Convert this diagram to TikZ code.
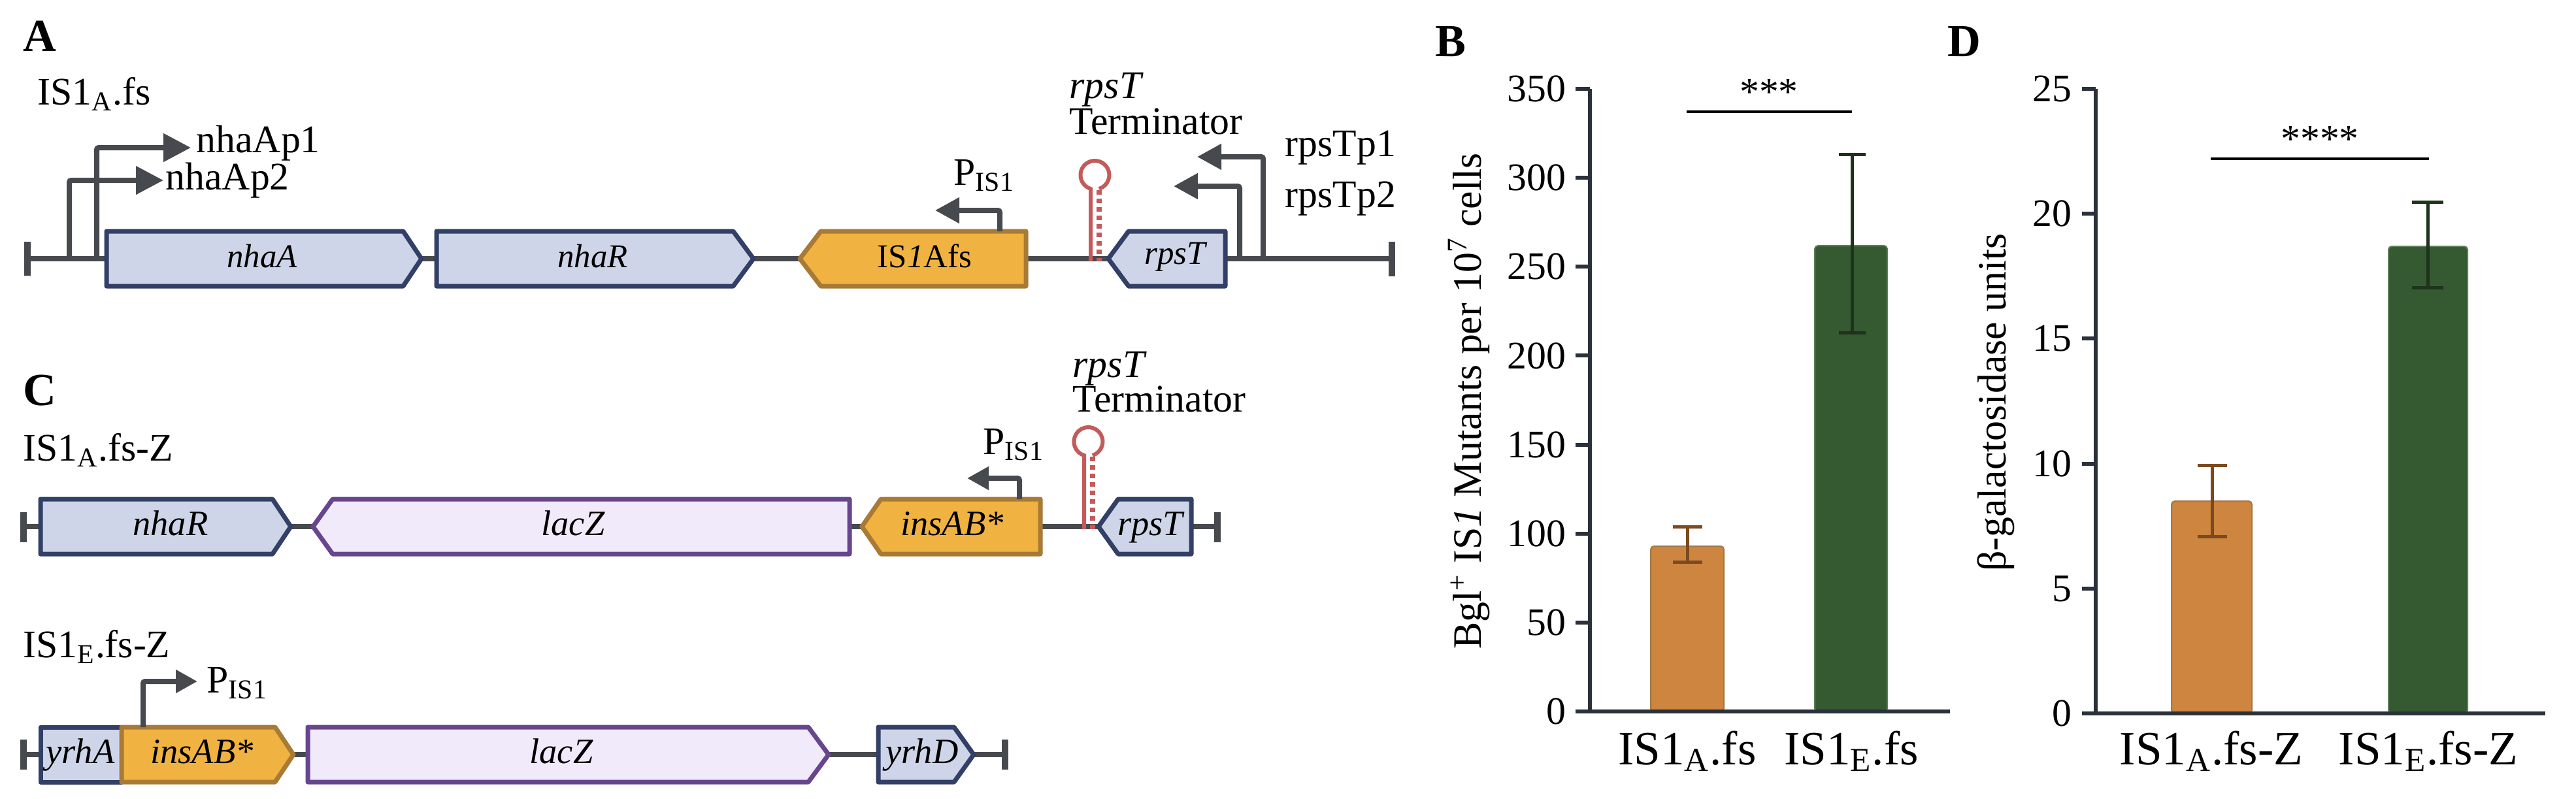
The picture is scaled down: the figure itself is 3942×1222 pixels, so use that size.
\documentclass[tikz,border=0pt]{standalone}
\usepackage{fontspec}
\setmainfont{Liberation Serif}
\usetikzlibrary{arrows.meta}
\definecolor{bb}{HTML}{464A4E}
\definecolor{gfill}{HTML}{CFD5E8}
\definecolor{gdraw}{HTML}{323F66}
\definecolor{ofill}{HTML}{F0B341}
\definecolor{odraw}{HTML}{A87A36}
\definecolor{lfill}{HTML}{F0EAFA}
\definecolor{ldraw}{HTML}{68468E}
\definecolor{termc}{HTML}{C45A5A}
\definecolor{axisc}{HTML}{2B313B}
\definecolor{barO}{HTML}{CD853F}
\definecolor{barOd}{HTML}{A07848}
\definecolor{errO}{HTML}{7B4A1E}
\definecolor{barG}{HTML}{355A32}
\definecolor{barGd}{HTML}{5E7D5A}
\definecolor{errG}{HTML}{1E321C}
\newcommand\geneR[5]{\path[#5] (#1,#4-42) -- (#2,#4-42) -- (#3,#4) -- (#2,#4+42) -- (#1,#4+42) -- cycle;}
\newcommand\geneL[5]{\path[#5] (#1,#4) -- (#2,#4-42) -- (#3,#4-42) -- (#3,#4+42) -- (#2,#4+42) -- cycle;}
\tikzset{
  backbone/.style={draw=bb, line width=0.8mm},
  endtick/.style={draw=bb, line width=1.0mm},
  geneblue/.style={fill=gfill, draw=gdraw, line width=0.7mm, line join=round},
  geneorange/.style={fill=ofill, draw=odraw, line width=0.7mm, line join=round},
  genelac/.style={fill=lfill, draw=ldraw, line width=0.7mm, line join=round},
  promA/.style={draw=bb, line width=0.8mm, rounded corners=0.3mm, -{Triangle[length=4.2mm,width=4.2mm]}},
  promB/.style={draw=bb, line width=0.8mm, rounded corners=0.3mm, -{Triangle[length=3.7mm,width=3.8mm]}},
  promC/.style={draw=bb, line width=0.8mm, rounded corners=0.3mm, -{Triangle[length=3.3mm,width=3.4mm]}},
  termsolid/.style={draw=termc, line width=0.6mm},
  termdash/.style={draw=termc, line width=0.8mm, dash pattern=on 0.7mm off 0.6mm},
  lbl/.style={anchor=base west, inner sep=0, font=\fontsize{17}{20}\selectfont},
  letterlbl/.style={anchor=base west, inner sep=0, font=\fontsize{20}{24}\selectfont\bfseries},
  genetxtA/.style={anchor=base, inner sep=0, font=\fontsize{14.5}{17}\selectfont\itshape},
  genetxtC/.style={anchor=base, inner sep=0, font=\fontsize{15.5}{18}\selectfont\itshape},
  axisline/.style={draw=axisc, line width=0.6mm},
  ticklbl/.style={anchor=east, inner sep=0, font=\fontsize{17}{20}\selectfont},
  axlbl/.style={inner sep=0, font=\fontsize{17.6}{20}\selectfont, rotate=90},
  xlbl/.style={anchor=base, inner sep=0, font=\fontsize{20.8}{24}\selectfont},
  sigline/.style={draw=black, line width=0.45mm},
  stars/.style={anchor=base, inner sep=0, font=\fontsize{17}{20}\selectfont},
  barOs/.style={fill=barO, draw=barOd, line width=0.2mm, rounded corners=0.5mm},
  barGs/.style={fill=barG, draw=barGd, line width=0.2mm, rounded corners=0.5mm},
  errOs/.style={draw=errO, line width=0.5mm},
  errGs/.style={draw=errG, line width=0.5mm},
}
\begin{document}
\begin{tikzpicture}[x=0.1mm, y=-0.1mm]
\useasboundingbox (0,0) rectangle (3942,1222);
\fill[white] (0,0) rectangle (3942,1222);

%%%%%%%%%%%%%%%% Panel A
\node[letterlbl] (LA) at (35,78) {A};
\node[lbl] (isA) at (57,160) {IS1\textsubscript{A}.fs};
\coordinate (a0) at (42,396);
\coordinate (a1) at (2130,396);
\draw[backbone] (a0) -- (a1);
\draw[endtick] (42,370) -- (42,422);
\draw[endtick] (2130,370) -- (2130,423);
% promoters nhaA
\coordinate (pA2) at (106,396);
\coordinate (pA1) at (148,396);
\draw[promA] (pA2) |- (250,276);
\draw[promA] (pA1) |- (292,226);
\node[lbl] (nhaAp1) at (300,233) {nhaAp1};
\node[lbl] (nhaAp2) at (253,290) {nhaAp2};
% genes
\geneR{163}{617}{645}{396}{geneblue}
\geneR{668}{1122}{1153}{396}{geneblue}
\geneL{1224}{1256}{1570}{396}{geneorange}
\geneL{1696}{1727}{1875}{396}{geneblue}
\node[genetxtA] (gnhaA) at (401,409) {nhaA};
\node[genetxtA] (gnhaR) at (907,409) {nhaR};
\node[genetxtA, font=\fontsize{14.5}{17}\selectfont] (gIS) at (1415,409) {IS\textit{1}Afs};
\node[genetxtA] (grpsT) at (1798,404) {rpsT};
% P_IS1
\coordinate (pisA) at (1530,354);
\draw[promB] (pisA) |- (1431,322);
\node[lbl] (PISa) at (1459,283) {P\textsubscript{IS1}};
% terminator
\draw[termsolid] (1669,400) -- (1669,289) arc[start angle=107, end angle=433, radius=22];
\draw[termdash] (1682,291) -- (1682,400);
\node[lbl, font=\fontsize{17}{20}\selectfont\itshape] (trA) at (1636,150) {rpsT};
\node[lbl] (tA) at (1636,205) {Terminator};
% rpsT promoters
\coordinate (pR2) at (1897,396);
\coordinate (pR1) at (1933,396);
\draw[promB] (pR2) |- (1796,285);
\draw[promB] (pR1) |- (1832,240);
\node[lbl] (rpsTp1) at (1966,239) {rpsTp1};
\node[lbl] (rpsTp2) at (1966,317) {rpsTp2};

%%%%%%%%%%%%%%%% Panel C row 1
\node[letterlbl] (LC) at (35,620) {C};
\node[lbl] (isAZ) at (35,705) {IS1\textsubscript{A}.fs-Z};
\draw[backbone] (36,806) -- (1863,806);
\draw[endtick] (36,784) -- (36,830);
\draw[endtick] (1863,784) -- (1863,830);
\geneR{62}{417}{445}{806}{geneblue}
\geneL{479}{509}{1300}{806}{genelac}
\geneL{1319}{1348}{1592}{806}{geneorange}
\geneL{1681}{1711}{1823}{806}{geneblue}
\node[genetxtC] (c1nhaR) at (261,819) {nhaR};
\node[genetxtC] (c1lacZ) at (877,819) {lacZ};
\node[genetxtC] (c1ins) at (1457,819) {insAB*};
\node[genetxtC] (c1rpsT) at (1760,819) {rpsT};
\coordinate (pisC1) at (1560,764);
\draw[promC] (pisC1) |- (1480,732);
\node[lbl] (PISc1) at (1504,695) {P\textsubscript{IS1}};
\draw[termsolid] (1659,810) -- (1659,697) arc[start angle=107, end angle=433, radius=22];
\draw[termdash] (1672,699) -- (1672,810);
\node[lbl, font=\fontsize{17}{20}\selectfont\itshape] (trC) at (1641,577) {rpsT};
\node[lbl] (tC) at (1641,630) {Terminator};

%%%%%%%%%%%%%%%% Panel C row 2
\node[lbl] (isEZ) at (35,1006) {IS1\textsubscript{E}.fs-Z};
\draw[backbone] (36,1155) -- (1538,1155);
\draw[endtick] (36,1132) -- (36,1178);
\draw[endtick] (1538,1132) -- (1538,1178);
\path[geneblue] (62,1113) rectangle (186,1197);
\geneR{186}{421}{449}{1155}{geneorange}
\geneR{471}{1237}{1268}{1155}{genelac}
\geneR{1344}{1460}{1490}{1155}{geneblue}
\node[genetxtC] (c2yrhA) at (123,1168) {yrhA};
\node[genetxtC] (c2ins) at (309,1168) {insAB*};
\node[genetxtC] (c2lacZ) at (859,1168) {lacZ};
\node[genetxtC] (c2yrhD) at (1411,1168) {yrhD};
\coordinate (pisC2) at (219,1113);
\draw[promC] (pisC2) |- (302,1043);
\node[lbl] (PISc2) at (316,1060) {P\textsubscript{IS1}};

%%%%%%%%%%%%%%%% Panel B
\node[letterlbl] (LB) at (2196,86) {B};
\foreach \v in {0,50,...,350}{
  \draw[axisline] (2411,{1089-\v*2.7229}) -- (2433,{1089-\v*2.7229});
  \node[ticklbl] (bt\v) at (2397,{1089-\v*2.7229}) {\v};
}
\draw[barOs] (2526,1089) rectangle (2638,836);
\draw[barGs] (2777,1089) rectangle (2888,376);
\draw[axisline] (2433,136) -- (2433,1089);
\draw[axisline] (2411,1089) -- (2984,1089);
\draw[errOs] (2582,806) -- (2582,860);
\draw[errOs] (2560,806) -- (2605,806);
\draw[errOs] (2560,860) -- (2605,860);
\draw[errGs] (2834,236) -- (2834,509);
\draw[errGs] (2814,236) -- (2855,236);
\draw[errGs] (2814,509) -- (2855,509);
\draw[sigline] (2581,171) -- (2834,171);
\node[stars] (sB) at (2707,160) {***};
\node[axlbl] (ylB) at (2248,614) {Bgl\textsuperscript{+} IS\textit{1} Mutants per 10\textsuperscript{7} cells};
\node[xlbl] (xB1) at (2582,1170) {IS1\textsubscript{A}.fs};
\node[xlbl] (xB2) at (2833,1170) {IS1\textsubscript{E}.fs};

%%%%%%%%%%%%%%%% Panel D
\node[letterlbl] (LD) at (2980,86) {D};
\foreach \v in {0,5,...,25}{
  \draw[axisline] (3186,{1092-\v*38.24}) -- (3207,{1092-\v*38.24});
  \node[ticklbl] (dt\v) at (3171,{1092-\v*38.24}) {\v};
}
\draw[barOs] (3323,1092) rectangle (3446,767);
\draw[barGs] (3655,1092) rectangle (3776,377);
\draw[axisline] (3207,136) -- (3207,1092);
\draw[axisline] (3186,1092) -- (3895,1092);
\draw[errOs] (3385,712) -- (3385,821);
\draw[errOs] (3363,712) -- (3408,712);
\draw[errOs] (3363,821) -- (3408,821);
\draw[errGs] (3715,309) -- (3715,440);
\draw[errGs] (3691,309) -- (3739,309);
\draw[errGs] (3691,440) -- (3739,440);
\draw[sigline] (3383,243) -- (3717,243);
\node[stars] (sD) at (3550,232) {****};
\node[axlbl] (ylD) at (3054,616) {β-galactosidase units};
\node[xlbl] (xD1) at (3384,1170) {IS1\textsubscript{A}.fs-Z};
\node[xlbl] (xD2) at (3716,1170) {IS1\textsubscript{E}.fs-Z};
\end{tikzpicture}
\end{document}
